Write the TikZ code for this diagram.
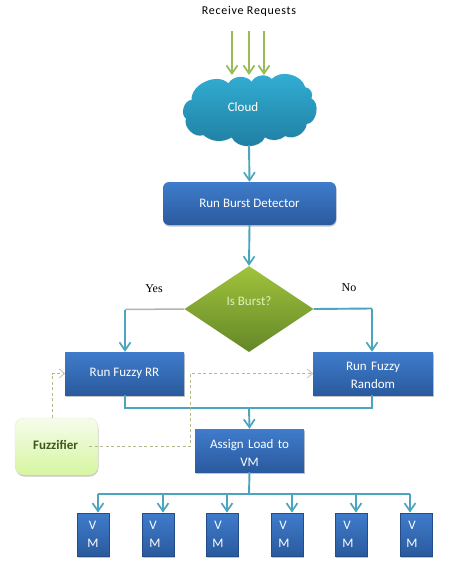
\documentclass[tikz,border=0pt]{standalone}
\usepackage{fontspec}
\setmainfont{Carlito}
\newfontfamily\serifx{Liberation Serif}
\usetikzlibrary{arrows.meta,shapes.geometric,shadows}
\definecolor{flowc}{HTML}{4BA5BF}
\definecolor{boxtop}{HTML}{3F7CCB}
\definecolor{boxbot}{HTML}{2A5A9E}
\definecolor{greenarrow}{HTML}{9BBB59}
\definecolor{dashc}{HTML}{B5B88A}
\definecolor{cloudtop}{RGB}{52,176,214}
\definecolor{cloudbot}{RGB}{30,125,160}
\newcommand{\vmtxt}[2]{\hspace*{#1}V\\\hspace*{#2}M}
\tikzset{
  bluebox/.style={rectangle,draw=none,top color=boxtop,bottom color=boxbot,text=white,align=center,
    font=\fontsize{13}{18}\selectfont,inner sep=0pt,
    drop shadow={shadow xshift=0.5pt,shadow yshift=-1.5pt,opacity=0.45}},
  vmbox/.style={bluebox,minimum width=32pt,minimum height=43pt,text width=32pt,
    draw=boxbot!85!black,line width=0.8pt},
  flow/.style={draw=flowc,line width=1.9pt,-{Straight Barb[length=8pt,width=11pt,line width=1.7pt]}},
  flowline/.style={draw=flowc,line width=1.9pt},
  reqarrow/.style={draw=greenarrow,line width=2pt,-{Straight Barb[length=8pt,width=11pt,line width=1.8pt]}},
  dashline/.style={draw=dashc,line width=0.7pt,dash pattern=on 3pt off 2.5pt,
     -{Straight Barb[length=5pt,width=9pt,line width=0.6pt]}},
  plainlabel/.style={font=\fontsize{12}{14}\selectfont,text=black,inner sep=0pt},
  seriflabel/.style={font=\serifx\fontsize{12}{14}\selectfont,text=black,inner sep=0pt},
}
\begin{document}
\begin{tikzpicture}[x=1pt,y=-1pt]
\useasboundingbox (0,0) rectangle (448,568);
\fill[white] (0,0) rectangle (448,568);
% top label
\node[plainlabel] (recv) at (249,11) {\addfontfeatures{LetterSpace=6}Receive Requests};
\coordinate (r1s) at (232,31); \coordinate (r2s) at (249,31); \coordinate (r3s) at (264,31);
\coordinate (r1e) at (232,75); \coordinate (r2e) at (249,75); \coordinate (r3e) at (264,75);
\draw[reqarrow] (r1s) -- (r1e);
\draw[reqarrow] (r2s) -- (r2e);
\draw[reqarrow] (r3s) -- (r3e);
% cloud outline
\begin{scope}[shift={(150,0)},x=0.3333pt,y=-0.3333pt]
\path[top color=cloudtop,bottom color=cloudbot,drop shadow={shadow xshift=0pt,shadow yshift=-0.6pt,opacity=0.2}]
  (125,300) to[bend left=70] (235,250)
  to[bend left=55] (305,245)
  to[bend left=55] (365,237)
  to[bend left=60] (466,262)
  to[bend left=62] (484,295)
  to[bend left=75] (470,372)
  to[bend left=55] (405,408)
  to[bend left=35] (345,412)
  to[bend left=65] (245,412)
  to[bend left=35] (160,405)
  to[bend left=65] (108,355)
  to[bend left=75] (125,300) -- cycle;
\end{scope}
\node[minimum width=130pt,minimum height=68pt,inner sep=0pt,text=white,
  font=\fontsize{13}{14}\selectfont] (cloud) at (249,111) {\raisebox{8pt}{Cloud\hspace*{12pt}}};
% main boxes
\node[bluebox,rounded corners=6pt,minimum width=173pt,minimum height=43pt] (burst) at (249.5,203.5) {Run Burst Detector};
\node[diamond,aspect=1.5,minimum width=129pt,minimum height=86pt,inner sep=0pt,
  top color={rgb,255:red,160;green,195;blue,60},bottom color={rgb,255:red,100;green,135;blue,40},
  text={rgb,255:red,225;green,240;blue,190},font=\fontsize{13}{14}\selectfont] (dec) at (249,309) {\raisebox{16pt}{Is Burst?}};
\node[bluebox,minimum width=119pt,minimum height=43pt] (rr) at (124.5,373.5) {Run Fuzzy RR};
\node[bluebox,minimum width=120pt,minimum height=43pt,text width=120pt] (rand) at (373,373.5) {\rule{0pt}{12pt}Run Fuzzy\\Random};
\node[bluebox,minimum width=109pt,minimum height=43pt,text width=109pt] (assign) at (249.5,450.5) {\rule{0pt}{14pt}Assign Load to\\VM};
\node[rectangle,rounded corners=9pt,minimum width=83pt,minimum height=57pt,inner sep=0pt,
  top color={rgb,255:red,246;green,252;blue,236},bottom color={rgb,255:red,214;green,246;blue,160},
  draw={rgb,255:red,225;green,235;blue,205},line width=0.4pt,
  drop shadow={shadow xshift=0.5pt,shadow yshift=-1.5pt,opacity=0.45},
  text={rgb,255:red,60;green,85;blue,30},font=\bfseries\fontsize{13}{14}\selectfont] (fuzz) at (56.5,446.5) {\raisebox{4pt}{Fuzzifier\hspace*{2pt}}};
% VMs
\node[vmbox] (vm1) at (93,534.5) {\vmtxt{-1pt}{0pt}};
\node[vmbox] (vm2) at (158,534.5) {\vmtxt{-10pt}{-6pt}};
\node[vmbox] (vm3) at (222,534.5) {\vmtxt{-8pt}{-8pt}};
\node[vmbox] (vm4) at (287,534.5) {\vmtxt{-8pt}{-6pt}};
\node[vmbox] (vm5) at (351,534.5) {\vmtxt{-8pt}{-6pt}};
\node[vmbox] (vm6) at (416,534.5) {\vmtxt{-8pt}{-8pt}};
% labels
\node[seriflabel] (yes) at (154,289) {Yes};
\node[seriflabel] (no) at (349,288) {No};
% connectors
\draw[flow] (cloud.south) -- (burst.north);
\draw[flow] (burst.south) -- (dec.north);
\coordinate (yk) at (125,309.5);
\coordinate (nk) at (372,308.5);
\draw[draw=black!30,line width=1.5pt] (dec.west) -- (yk);
\draw[flow] (yk) -- (rr.north -| yk);
\draw[flowline] (dec.east) -- (nk);
\draw[flow] (nk) -- (rand.north -| nk);
\coordinate (mj) at (249,408);
\draw[flowline] (rr.south -| yk) -- (yk |- mj) -- (nk |- mj) -- (rand.south -| nk);
\draw[flow] (mj) -- (assign.north);
\coordinate (bus) at (249,494);
\draw[flowline] (assign.south) -- (bus);
\coordinate (b1) at (98,494); \coordinate (b2) at (163,494); \coordinate (b3) at (227,494);
\coordinate (b4) at (292,494); \coordinate (b5) at (356,494); \coordinate (b6) at (410,494);
\draw[flowline] (b1) -- (b6);
\foreach \i in {1,...,6} \draw[flow] (b\i) -- (b\i |- vm\i.north);
% dashed
\coordinate (da) at (52,373.5);
\draw[dashline] (fuzz.north -| da) -- (da) -- (rr.west);
\coordinate (db) at (190,446.5);
\coordinate (dc) at (190,373.5);
\coordinate (ds) at (89,446.5);
\draw[dashline] (ds) -- (db) -- (dc) -- (rand.west);
\end{tikzpicture}
\end{document}
